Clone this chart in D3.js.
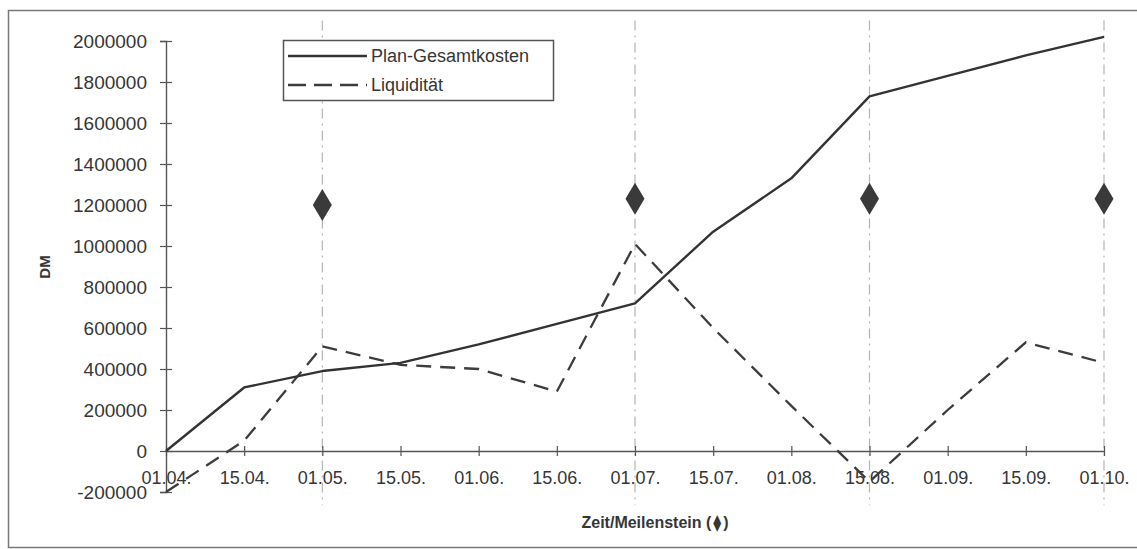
<!DOCTYPE html>
<html>
<head>
<meta charset="utf-8">
<script src="https://cdn.jsdelivr.net/npm/d3@7"></script>
<style>
  html, body { margin: 0; padding: 0; background: #ffffff; }
  svg { display: block; font-family: "Liberation Sans", Arial, sans-serif; }
</style>
</head>
<body>
<svg id="chart" width="1137" height="549"></svg>
<script>
// Stichtage (Kategorienachse)
const dates = ["01.04.", "15.04.", "01.05.", "15.05.", "01.06.", "15.06.", "01.07.",
               "15.07.", "01.08.", "15.08.", "01.09.", "15.09.", "01.10."];

// Kumulierte Plan-Gesamtkosten in DM
const planGesamtkosten = [0, 310000, 390000, 430000, 520000, 620000, 720000,
                          1070000, 1330000, 1730000, 1830000, 1930000, 2020000];

// Liquidität in DM
const liquiditaet = [-200000, 50000, 510000, 420000, 400000, 290000, 1010000,
                     600000, 220000, -150000, 200000, 530000, 430000];

// Meilensteine
const milestoneDates = ["01.05.", "01.07.", "15.08.", "01.10."];
const milestoneValues = [1200000, 1230000, 1230000, 1230000];

// Wertachse
const yTicks = [-200000, 0, 200000, 400000, 600000, 800000, 1000000,
                1200000, 1400000, 1600000, 1800000, 2000000];

const seriesNames = ["Plan-Gesamtkosten", "Liquidität"];

const svg = d3.select("#chart");
const ink = "#363636";

// Rahmen
svg.append("path")
  .attr("d", "M1137,10.5 H8.5 V547.5 H1137")
  .attr("fill", "none")
  .attr("stroke", "#777")
  .attr("stroke-width", 1.5);

const x = d3.scalePoint().domain(dates).range([166, 1104]).padding(0);
const y = d3.scaleLinear().domain([-200000, 2000000]).range([492, 41]);

// Meilenstein-Hilfslinien
svg.append("g").selectAll("line")
  .data(milestoneDates)
  .join("line")
  .attr("x1", d => x(d)).attr("x2", d => x(d))
  .attr("y1", y(2100000)).attr("y2", y(-265000))
  .attr("stroke", "#b4b4b4")
  .attr("stroke-width", 1.2)
  .attr("stroke-dasharray", "10,5,2,5");

// Y-Achse
const yAxis = svg.append("g")
  .attr("transform", `translate(${x(dates[0])},0)`)
  .call(d3.axisLeft(y).tickValues(yTicks).tickFormat(d => String(d)).tickSize(6).tickPadding(13));
yAxis.select(".domain").attr("stroke", "#555").attr("stroke-width", 1.4);
yAxis.selectAll(".tick line").attr("x1", -6).attr("x2", 6).attr("stroke", "#555").attr("stroke-width", 1.2);
yAxis.selectAll(".tick text")
  .attr("font-size", 19)
  .attr("fill", ink)
  .attr("font-family", "Liberation Sans, Arial, sans-serif");

// X-Achse auf der Nulllinie
const xAxis = svg.append("g")
  .attr("transform", `translate(0,${y(0)})`)
  .call(d3.axisBottom(x).tickSize(5).tickSizeOuter(0));
xAxis.select(".domain").attr("stroke", "#555").attr("stroke-width", 1.6);
xAxis.selectAll(".tick line").attr("y1", -5).attr("y2", 5).attr("stroke", "#555").attr("stroke-width", 1.2);
xAxis.selectAll(".tick text")
  .attr("y", 33).attr("dy", 0)
  .attr("font-size", 18)
  .attr("fill", ink)
  .attr("font-family", "Liberation Sans, Arial, sans-serif");

// Linien
const line = d3.line().x((d, i) => x(dates[i])).y(d => y(d));

svg.append("path")
  .datum(liquiditaet)
  .attr("d", line)
  .attr("fill", "none")
  .attr("stroke", "#3c3c3c")
  .attr("stroke-width", 2.3)
  .attr("stroke-dasharray", "15,9");

svg.append("path")
  .datum(planGesamtkosten)
  .attr("d", line)
  .attr("fill", "none")
  .attr("stroke", "#333")
  .attr("stroke-width", 2.4)
  .attr("stroke-linejoin", "round");

// Meilenstein-Rauten
svg.append("g").selectAll("path")
  .data(milestoneDates)
  .join("path")
  .attr("transform", (d, i) => `translate(${x(d)},${y(milestoneValues[i])})`)
  .attr("d", "M0,-16 L9.5,0 L0,16 L-9.5,0 Z")
  .attr("fill", "#3a3a3a");

// Legende
const legend = svg.append("g");
legend.append("rect")
  .attr("x", 283.5).attr("y", 40.5).attr("width", 270).attr("height", 60)
  .attr("fill", "#fff").attr("stroke", "#555").attr("stroke-width", 1.5);
legend.append("line")
  .attr("x1", 288).attr("x2", 367).attr("y1", 56).attr("y2", 56)
  .attr("stroke", "#333").attr("stroke-width", 2.4);
legend.append("line")
  .attr("x1", 288).attr("x2", 367).attr("y1", 85).attr("y2", 85)
  .attr("stroke", "#3c3c3c").attr("stroke-width", 2.3).attr("stroke-dasharray", "18,8");
legend.selectAll("text")
  .data(seriesNames)
  .join("text")
  .attr("x", 371)
  .attr("y", (d, i) => 62 + i * 29)
  .attr("font-size", 18)
  .attr("fill", ink)
  .text(d => d);

// Achsentitel
svg.append("text")
  .attr("transform", "translate(50,267) rotate(-90)")
  .attr("text-anchor", "middle")
  .attr("font-size", 15)
  .attr("font-weight", "bold")
  .attr("fill", ink)
  .text("DM");

const xt = svg.append("text")
  .attr("x", 655).attr("y", 528)
  .attr("text-anchor", "middle")
  .attr("font-size", 16)
  .attr("font-weight", "bold")
  .attr("fill", ink);
xt.append("tspan").text("Zeit/Meilenstein (");
xt.append("tspan").attr("font-family", "DejaVu Sans").attr("font-weight", "normal").attr("dx", 2).text("⧫");
xt.append("tspan").attr("dx", 2).text(")");
</script>
</body>
</html>
